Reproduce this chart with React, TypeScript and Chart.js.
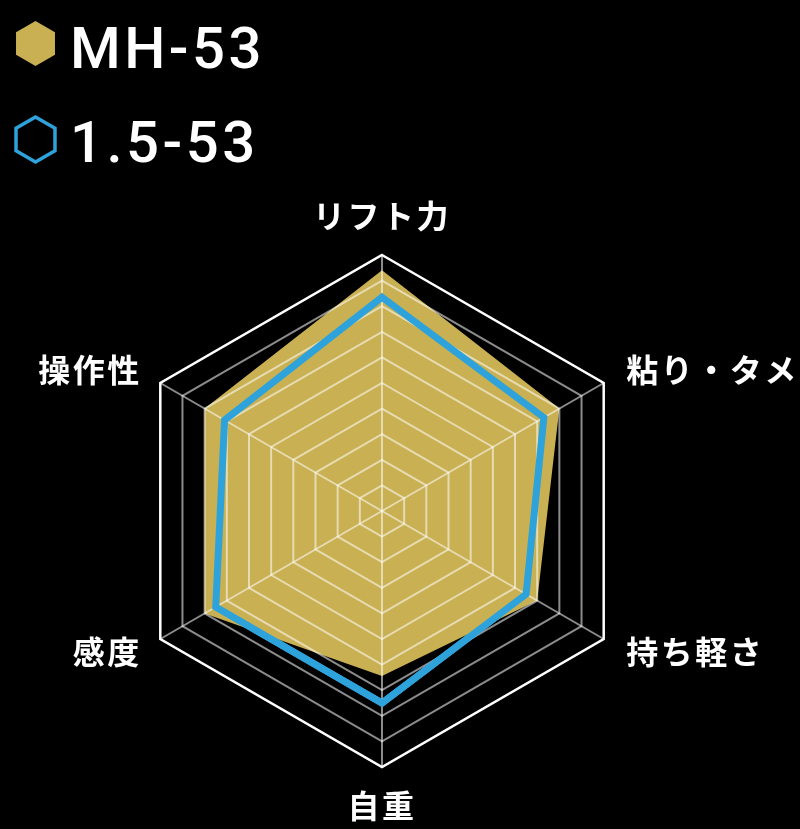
import React, { useEffect, useRef } from "react";
import { Chart, registerables } from "chart.js";

Chart.register(...registerables);

// ---- data ----
const categories = ["リフト力", "粘り・タメ", "持ち軽さ", "自重", "感度", "操作性"];
const seriesNames = ["MH-53", "1.5-53"];
const mh53Values = [9.4, 8.0, 7.0, 6.45, 8.0, 8.0];
const rod153Values = [8.35, 7.3, 6.5, 7.5, 7.5, 7.1];
const scaleMin = 0;
const scaleMax = 10;
const scaleStep = 1;

// ---- styles ----
const GOLD = "#C9B052";
const BLUE = "#2EA3DB";
const GRID_DIM = "rgba(255,255,255,0.55)";
const GRID_OUTER = "#ffffff";

function hexPath(ctx: CanvasRenderingContext2D, cx: number, cy: number, r: number) {
  ctx.beginPath();
  for (let k = 0; k < 6; k++) {
    const a = -Math.PI / 2 + (k * Math.PI) / 3;
    const x = cx + r * Math.cos(a);
    const y = cy + r * Math.sin(a);
    if (k === 0) ctx.moveTo(x, y);
    else ctx.lineTo(x, y);
  }
  ctx.closePath();
}

const overlayPlugin = {
  id: "overlay",
  afterDraw(chart: any) {
    const ctx: CanvasRenderingContext2D = chart.ctx;
    // blue outline drawn above the grid
    const meta = chart.getDatasetMeta(1);
    if (meta && meta.dataset && !meta.hidden) meta.dataset.draw(ctx, chart.chartArea);

    const scale = chart.scales.r;
    const R = scale.drawingArea;

    // point labels
    ctx.save();
    ctx.fillStyle = "#ffffff";
    ctx.font = 'bold 32px "Noto Sans CJK JP"';
    (ctx as any).letterSpacing = "2.5px";
    ctx.textBaseline = "middle";
    chart.data.labels.forEach((label: string, i: number) => {
      const p = scale.getPointPosition(i, R + 26);
      const dx = p.x - scale.xCenter;
      const dy = p.y - scale.yCenter;
      let x = p.x;
      let y = p.y;
      if (Math.abs(dx) < 1) {
        ctx.textAlign = "center";
        y = scale.yCenter + Math.sign(dy) * (R + 39);
      } else if (dx > 0) {
        ctx.textAlign = "left";
      } else {
        ctx.textAlign = "right";
        x += 4;
      }
      ctx.fillText(label, x, y);
    });

    // legend
    const ds = chart.data.datasets;
    ctx.font = '500 58px Roboto';
    (ctx as any).letterSpacing = "3.5px";
    ctx.textAlign = "left";
    ctx.textBaseline = "alphabetic";

    hexPath(ctx, 35.5, 43.5, 22.5);
    ctx.fillStyle = ds[0].backgroundColor;
    ctx.fill();
    ctx.fillStyle = "#ffffff";
    ctx.fillText(ds[0].label, 70, 68);

    hexPath(ctx, 35.5, 139.5, 22.5);
    ctx.strokeStyle = ds[1].borderColor;
    ctx.lineWidth = 3.5;
    ctx.lineJoin = "miter";
    ctx.stroke();
    ctx.fillStyle = "#ffffff";
    ctx.fillText(ds[1].label, 70, 162);
    ctx.restore();
  },
};

export default function App() {
  const canvasRef = useRef<HTMLCanvasElement | null>(null);

  useEffect(() => {
    document.body.style.margin = "0";
    document.body.style.background = "#000";
    const canvas = canvasRef.current;
    if (!canvas) return;
    const chart = new Chart(canvas, {
      type: "radar",
      data: {
        labels: categories,
        datasets: [
          {
            label: seriesNames[0],
            data: mh53Values,
            backgroundColor: GOLD,
            borderColor: GOLD,
            borderWidth: 0,
            fill: true,
            pointRadius: 0,
            pointHoverRadius: 0,
          },
          {
            label: seriesNames[1],
            data: rod153Values,
            backgroundColor: "rgba(0,0,0,0)",
            borderColor: BLUE,
            borderWidth: 7,
            borderJoinStyle: "miter",
            fill: false,
            pointRadius: 0,
            pointHoverRadius: 0,
          },
        ],
      },
      options: {
        animation: false,
        responsive: true,
        maintainAspectRatio: false,
        layout: { padding: { left: 126, right: 162, top: 255, bottom: 62 } },
        plugins: {
          legend: { display: false },
          tooltip: { enabled: false },
        },
        elements: { line: { tension: 0 } },
        scales: {
          r: {
            min: scaleMin,
            max: scaleMax,
            z: 1,
            ticks: { display: false, stepSize: scaleStep },
            pointLabels: { display: false },
            grid: {
              z: 1,
              color: (c: any) => (c.tick && c.tick.value === scaleMax ? GRID_OUTER : GRID_DIM),
              lineWidth: (c: any) => (c.tick && c.tick.value === scaleMax ? 2.5 : 2),
            },
            angleLines: { color: GRID_DIM, lineWidth: 2 },
          },
        },
      },
      plugins: [overlayPlugin],
    } as any);
    return () => chart.destroy();
  }, []);

  return (
    <div style={{ position: "relative", width: 800, height: 829, background: "#000" }}>
      <canvas ref={canvasRef} />
    </div>
  );
}
